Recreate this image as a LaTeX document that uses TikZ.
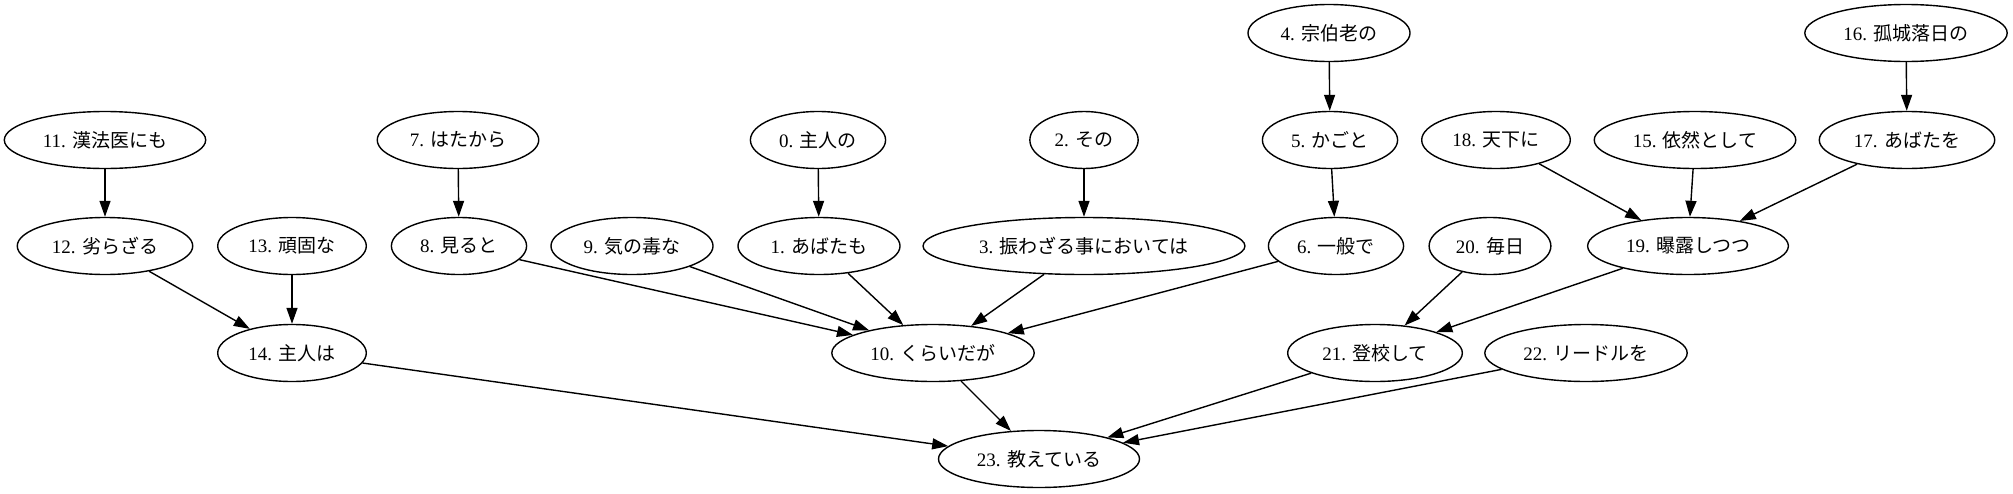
\documentclass[tikz,border=0pt]{standalone}
\usepackage{fontspec}
\setmainfont{Liberation Serif}
\newfontfamily\jpfont{Noto Sans CJK JP}
\usetikzlibrary{arrows.meta,shapes.geometric}
\newcommand{\bunsetsu}[2]{#1. {\jpfont #2}}
\begin{document}
\begin{tikzpicture}[->,>={Triangle[length=8pt,width=5.5pt]},x=0.5pt,y=-0.5pt]
        \tikzstyle{word}=[ellipse,draw=black,line width=0.7pt,minimum height=28.5pt,inner xsep=4.5pt,inner ysep=1pt,font=\fontsize{9.5}{11}\selectfont]
        \tikzstyle{edge}=[draw, line width=0.7pt]
        \useasboundingbox (0,0) rectangle (2013,493);
       \begin{scope}
         % top row
         \node [word] (w4) at (1329,33) {\bunsetsu{4}{宗伯老の}};
         \node [word] (w16) at (1906,33) {\bunsetsu{16}{孤城落日の}};
         % second row
         \node [word] (w11) at (105,140) {\bunsetsu{11}{漢法医にも}};
         \node [word] (w7) at (458,140) {\bunsetsu{7}{はたから}};
         \node [word] (w0) at (818,140) {\bunsetsu{0}{主人の}};
         \node [word] (w2) at (1084,140) {\bunsetsu{2}{その}};
         \node [word] (w5) at (1330,140) {\bunsetsu{5}{かごと}};
         \node [word] (w18) at (1496,140) {\bunsetsu{18}{天下に}};
         \node [word] (w15) at (1695,140) {\bunsetsu{15}{依然として}};
         \node [word] (w17) at (1907,140) {\bunsetsu{17}{あばたを}};
         % third row
         \node [word] (w12) at (105,246) {\bunsetsu{12}{劣らざる}};
         \node [word] (w13) at (292,246) {\bunsetsu{13}{頑固な}};
         \node [word] (w8) at (459,246) {\bunsetsu{8}{見ると}};
         \node [word] (w9) at (632,246) {\bunsetsu{9}{気の毒な}};
         \node [word] (w1) at (819,246) {\bunsetsu{1}{あばたも}};
         \node [word] (w3) at (1084,246) {\bunsetsu{3}{振わざる事においては}};
         \node [word] (w6) at (1336,246) {\bunsetsu{6}{一般で}};
         \node [word] (w20) at (1490,246) {\bunsetsu{20}{毎日}};
         \node [word] (w19) at (1688,246) {\bunsetsu{19}{曝露しつつ}};
         % fourth row
         \node [word] (w14) at (292,353) {\bunsetsu{14}{主人は}};
         \node [word] (w10) at (933,353) {\bunsetsu{10}{くらいだが}};
         \node [word] (w21) at (1375,353) {\bunsetsu{21}{登校して}};
         \node [word] (w22) at (1586,353) {\bunsetsu{22}{リードルを}};
         % root
         \node [word] (w23) at (1039,459) {\bunsetsu{23}{教えている}};

         \path[edge] (w11) edge (w12);
         \path[edge] (w7) edge (w8);
         \path[edge] (w0) edge (w1);
         \path[edge] (w2) edge (w3);
         \path[edge] (w4) edge (w5);
         \path[edge] (w5) edge (w6);
         \path[edge] (w16) edge (w17);
         \path[edge] (w12) edge (w14);
         \path[edge] (w13) edge (w14);
         \path[edge] (w8) edge (w10);
         \path[edge] (w9) edge (w10);
         \path[edge] (w1) edge (w10);
         \path[edge] (w3) edge (w10);
         \path[edge] (w6) edge (w10);
         \path[edge] (w18) edge (w19);
         \path[edge] (w15) edge (w19);
         \path[edge] (w17) edge (w19);
         \path[edge] (w20) edge (w21);
         \path[edge] (w19) edge (w21);
         \path[edge] (w14) edge (w23);
         \path[edge] (w10) edge (w23);
         \path[edge] (w21) edge (w23);
         \path[edge] (w22) edge (w23);
        \end{scope}
      \end{tikzpicture}
\end{document}
